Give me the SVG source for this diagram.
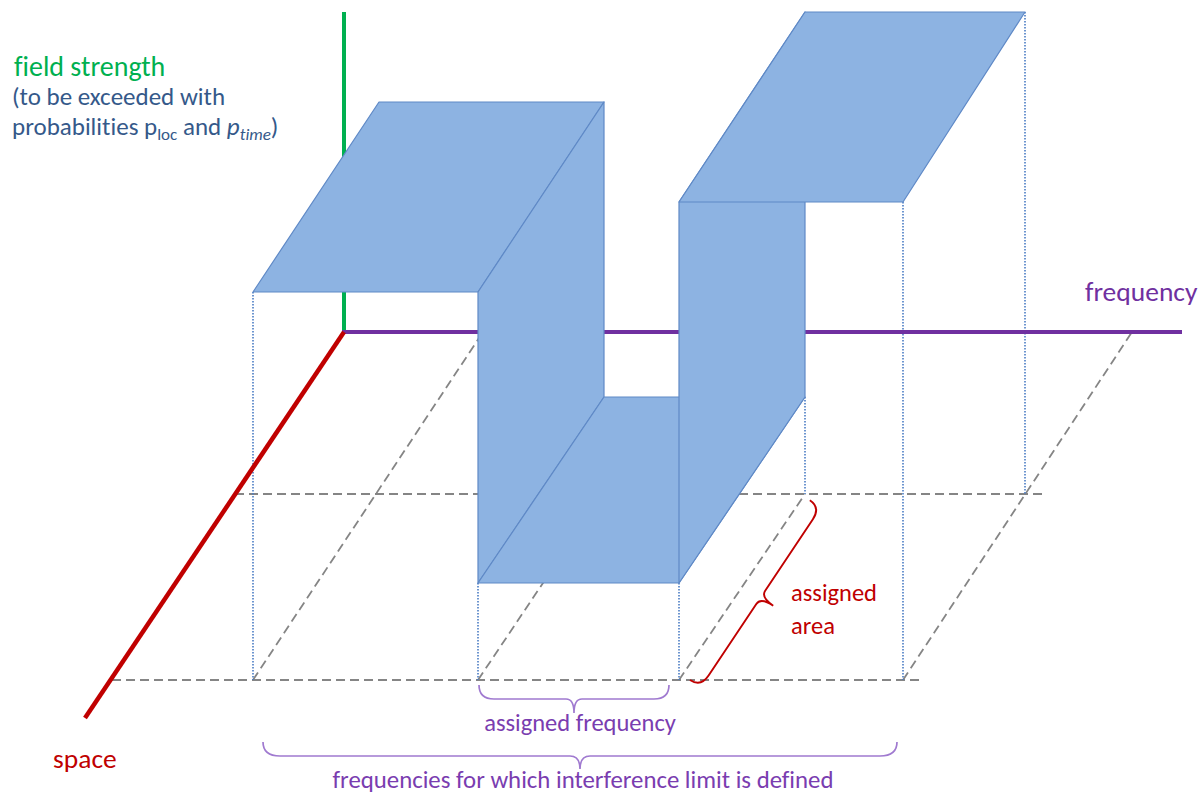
<svg xmlns="http://www.w3.org/2000/svg" width="1203" height="795" viewBox="0 0 1203 795">
<style>
.face{fill:#8db3e2;stroke:#5f89c6;stroke-width:1.2;stroke-linejoin:round}
.dash{stroke:#858585;stroke-width:1.8;stroke-dasharray:9 5;fill:none}
.dot{stroke:#4a7cc4;stroke-width:1.6;stroke-dasharray:1.5 1.5;fill:none}
.brP{fill:none;stroke:#a07ad0;stroke-width:1.7}
.brR{fill:none;stroke:#c00000;stroke-width:1.9}
text{font-family:Carlito,Lato,"Liberation Sans",sans-serif;font-variant-ligatures:none}
</style>
<rect width="1203" height="795" fill="#ffffff"/>
<g id="connectors">
  <line class="dash" x1="112" y1="680" x2="920" y2="680"/>
  <line class="dash" x1="235" y1="494" x2="1045" y2="494"/>
  <line class="dash" x1="253" y1="680" x2="483" y2="332"/>
  <line class="dash" x1="478" y1="680" x2="545" y2="580"/>
  <line class="dash" x1="679" y1="680" x2="805" y2="494"/>
  <line class="dash" x1="903" y1="680" x2="1132" y2="332"/>
  <line class="dot" x1="253" y1="292" x2="253" y2="680"/>
  <line class="dot" x1="478" y1="583" x2="478" y2="680"/>
  <line class="dot" x1="679" y1="583" x2="679" y2="680"/>
  <line class="dot" x1="805" y1="397" x2="805" y2="494"/>
  <line class="dot" x1="903" y1="202" x2="903" y2="680"/>
  <line class="dot" x1="1025" y1="12" x2="1025" y2="494"/>
</g>
<g id="axes">
  <line id="axis-field" x1="344" y1="12" x2="344" y2="332" stroke="#00b050" stroke-width="4"/>
  <line id="axis-frequency" x1="342" y1="332" x2="1182" y2="332" stroke="#7030a0" stroke-width="4"/>
  <line id="axis-space" x1="344" y1="332" x2="85" y2="718" stroke="#c00000" stroke-width="4.5"/>
</g>
<g id="surface">
  <polygon id="left-top" class="face" points="253,292 478,292 604,102 379,102"/>
  <polygon id="left-riser" class="face" points="478,292 604,102 604,397 478,583"/>
  <polygon id="low-plateau" class="face" points="478,583 679,583 805,397 604,397"/>
  <polygon id="right-riser" class="face" points="679,202 805,12 805,397 679,583"/>
  <polygon id="right-top" class="face" points="679,202 903,202 1025,12 805,12"/>
</g>
<g id="braces">
  <path id="brace-assigned-frequency" class="brP" d="M479,685 Q479,699 494,699 L566,699 Q574,699 574,713 Q574,699 582,699 L654,699 Q669,699 669,685"/>
  <path id="brace-frequencies" class="brP" d="M263,742 Q263,756 280,756 L570,756 Q580,756 580,769 Q580,756 590,756 L880,756 Q897,756 897,742"/>
  <path id="brace-assigned-area" class="brR" transform="translate(690,680) rotate(-56.3)" d="M0,0 Q0,13 14,13 L100,13 Q108,13 108,28 Q108,13 116,13 L202,13 Q216,13 216,0"/>
</g>
<g id="labels">
  <text x="14" y="76" font-size="28" fill="#00b050">field strength</text>
  <text x="12" y="105" font-size="25" fill="#35598a">(to be exceeded with</text>
  <text x="12" y="135" font-size="25" fill="#35598a">probabilities p<tspan font-size="17" dy="5">loc</tspan><tspan dy="-5"> and </tspan><tspan font-style="italic">p</tspan><tspan font-style="italic" font-size="17" dy="5">time</tspan><tspan dy="-5">)</tspan></text>
  <text x="1085" y="301" font-size="27.5" fill="#7030a0">frequency</text>
  <text x="53" y="768" font-size="27.5" fill="#c00000">space</text>
  <text x="791" y="601" font-size="24.5" fill="#c00000">assigned</text>
  <text x="791" y="634" font-size="24.5" fill="#c00000">area</text>
  <text x="580" y="731" font-size="24.5" fill="#7a3db0" text-anchor="middle">assigned frequency</text>
  <text x="583" y="788" font-size="24.8" fill="#7a3db0" text-anchor="middle">frequencies for which interference limit is defined</text>
</g>
</svg>
